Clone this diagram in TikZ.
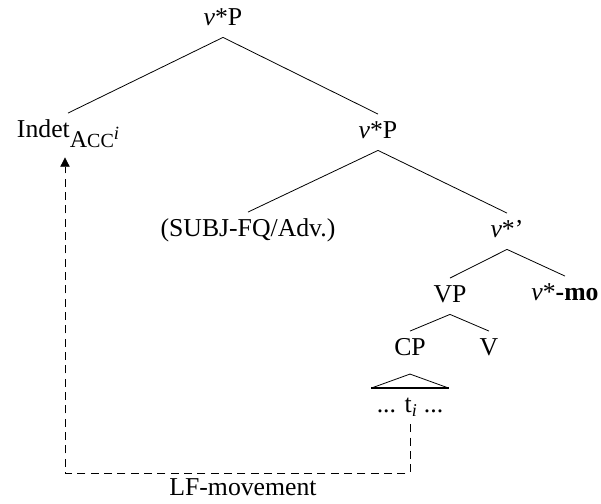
\documentclass[tikz,border=0pt]{standalone}
\usepackage{fontspec}
\setmainfont{Liberation Serif}
\usetikzlibrary{arrows.meta}

\newcommand{\accsub}{\raisebox{-7.5pt}{\fontsize{18}{20}\selectfont A\fontsize{15}{17}\selectfont CC\raisebox{6pt}{\fontsize{14}{15}\selectfont\itshape i}}}

\begin{document}
\begin{tikzpicture}[
      x=0.75pt,y=-0.75pt,line width=0.6pt,
      cat/.style={anchor=base,inner sep=4.9pt,text height=12.75pt,text depth=4.1pt,font=\fontsize{19.3}{23}\selectfont},
      lfmove/.style={dashed,dash pattern=on 6pt off 4pt,-{Triangle[length=7pt,width=7pt]}}
    ]
    \useasboundingbox (0,0) rectangle (601,504);

    \node[cat] (top) at (223,25) {\textit{v}*P};
    \node[cat] (indet) at (68,137) {Indet\accsub};
    \node[cat] (vp2) at (378,138) {\textit{v}*P};
    \node[cat] (subj) at (248,236) {(SUBJ-FQ/Adv.)};
    \node[cat] (vbar) at (507,237) {\textit{v}*'};
    \node[cat] (vp) at (450,302) {VP};
    \node[cat] (vmo) at (565,300) {\textit{v}*\textbf{-mo}};
    \node[cat] (cp) at (410,355) {CP};
    \node[cat] (v) at (489,355) {V};
    \node[cat] (trace) at (410,412) {... t\textsubscript{\itshape i} ...};
    \node[cat] (lf) at (243,495) {LF-movement};

    \coordinate (lfR) at (410,473);
    \coordinate (lfL) at (65,473);

    \draw
    (top.south) -- (indet.north)
    (top.south) -- (vp2.north)
    (vp2.south) -- (subj.north)
    (vp2.south) -- (vbar.north)
    (vbar.south) -- (vp.north)
    (vbar.south) -- (vmo.north)
    (vp.south) -- (cp.north)
    (vp.south) -- (v.north);

    % triangle over the CP
    \draw ([yshift=-5pt]cp.south) -- ([xshift=-29pt]trace.north);
    \draw ([yshift=-5pt]cp.south) -- ([xshift=29pt]trace.north);
    \draw[line width=1.5pt] ([xshift=-29pt]trace.north) -- ([xshift=29pt]trace.north);

    % LF movement
    \draw[lfmove] (trace.south) -- (lfR) -- (lfL) -- ([yshift=-6pt]indet.south -| lfL);
  \end{tikzpicture}
\end{document}
